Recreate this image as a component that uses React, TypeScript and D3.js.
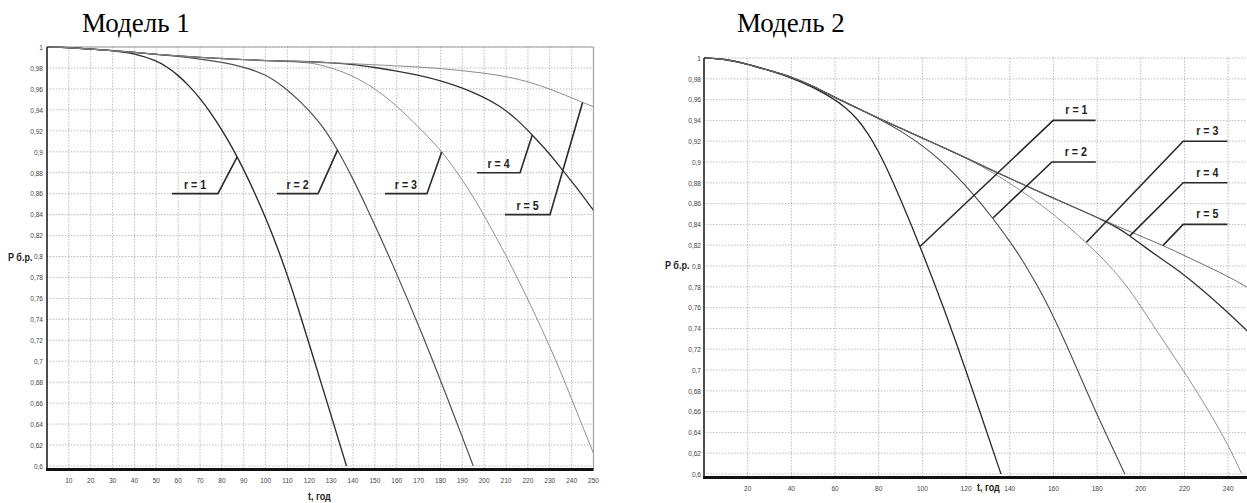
import React from "react";
import * as d3 from "d3";

type Pt = [number, number];

// ---------- Модель 1: P б.р.(t) при r = 1…5 ----------
const model1R1: Pt[] = [[0,1],[10,0.9995],[20,0.998],[30,0.9965],[40,0.994],[50,0.987],[55,0.981],[60,0.973],[65,0.963],[70,0.951],[75,0.937],[80,0.921],[85,0.903],[90,0.883],[95,0.861],[100,0.837],[105,0.811],[110,0.782],[115,0.75],[120,0.716],[125,0.682],[130,0.648],[137,0.6]];
const model1R2: Pt[] = [[0,1],[10,0.9995],[20,0.998],[30,0.9965],[40,0.9948],[50,0.993],[60,0.991],[70,0.9885],[80,0.9855],[90,0.981],[100,0.974],[108,0.9625],[116,0.948],[125,0.928],[133,0.902],[140,0.874],[146,0.848],[152,0.821],[158,0.793],[165,0.759],[172,0.724],[180,0.682],[187,0.644],[195,0.6]];
const model1R3: Pt[] = [[0,1],[10,0.9995],[20,0.998],[30,0.9965],[40,0.9948],[50,0.993],[60,0.9915],[70,0.99],[80,0.989],[90,0.988],[100,0.987],[110,0.9862],[120,0.985],[125,0.983],[135,0.977],[145,0.967],[155,0.953],[165,0.934],[175,0.913],[180.6,0.9],[185,0.888],[190,0.873],[195,0.857],[200,0.839],[205,0.82],[211,0.797],[215,0.78],[220,0.759],[225,0.737],[230,0.714],[235,0.69],[240,0.664],[245,0.638],[250,0.612]];
const model1R4: Pt[] = [[0,1],[10,0.9995],[20,0.998],[30,0.9965],[40,0.9948],[50,0.993],[60,0.9915],[70,0.99],[80,0.989],[90,0.988],[100,0.987],[110,0.9865],[120,0.986],[130,0.985],[140,0.9835],[150,0.9805],[160,0.977],[170,0.973],[180,0.968],[190,0.961],[200,0.952],[207,0.944],[215,0.931],[222,0.916],[230,0.898],[236,0.882],[243,0.864],[250,0.844]];
const model1R5: Pt[] = [[0,1],[10,0.9995],[20,0.998],[30,0.9965],[40,0.9948],[50,0.993],[60,0.9915],[70,0.99],[80,0.989],[90,0.988],[100,0.987],[110,0.9865],[120,0.986],[130,0.985],[140,0.984],[150,0.983],[160,0.982],[170,0.981],[180,0.9795],[190,0.9775],[200,0.975],[210,0.972],[222,0.966],[235,0.956],[245,0.947],[250,0.943]];

// ---------- Модель 2: P б.р.(t) при r = 1…5 ----------
const model2R1: Pt[] = [[0,1],[10,0.999],[20,0.994],[30,0.988],[40,0.981],[50,0.972],[60,0.96],[65,0.952],[70,0.942],[75,0.928],[80,0.91],[85,0.888],[90,0.864],[95,0.839],[100,0.813],[105,0.786],[110,0.758],[115,0.729],[120,0.699],[125,0.668],[130,0.637],[136,0.6]];
const model2R2: Pt[] = [[0,1],[10,0.999],[20,0.994],[30,0.988],[40,0.982],[50,0.973],[60,0.962],[70,0.952],[80,0.942],[90,0.93],[100,0.916],[108,0.902],[115,0.888],[123,0.87],[132,0.847],[141.6,0.819],[146,0.805],[153.8,0.777],[158,0.76],[165,0.729],[170.6,0.702],[181,0.652],[192.7,0.6]];
const model2R3: Pt[] = [[0,1],[10,0.999],[20,0.994],[30,0.988],[40,0.982],[50,0.973],[60,0.962],[70,0.952],[80,0.942],[90,0.9325],[100,0.923],[110,0.9135],[120,0.904],[134,0.888],[149,0.867],[160,0.85],[175,0.823],[186,0.8],[193.5,0.781],[199.5,0.763],[210,0.729],[221,0.695],[231.6,0.659],[240,0.628],[246,0.601]];
const model2R4: Pt[] = [[0,1],[10,0.999],[20,0.994],[30,0.988],[40,0.982],[50,0.973],[60,0.962],[70,0.952],[80,0.942],[90,0.9325],[100,0.923],[110,0.9135],[120,0.904],[134,0.89],[145,0.8795],[157,0.868],[170,0.856],[183,0.844],[190,0.836],[195,0.829],[200,0.821],[210,0.806],[216.5,0.797],[228.4,0.777],[239,0.757],[250,0.735]];
const model2R5: Pt[] = [[0,1],[10,0.999],[20,0.994],[30,0.988],[40,0.982],[50,0.973],[60,0.962],[70,0.952],[80,0.942],[90,0.9325],[100,0.923],[110,0.9135],[120,0.904],[134,0.89],[145,0.8795],[157,0.868],[170,0.856],[183,0.844],[195,0.833],[210,0.82],[222,0.808],[232,0.798],[240,0.79],[250,0.778]];

const seriesNames = ["r = 1", "r = 2", "r = 3", "r = 4", "r = 5"];
const panelTitles = ["Модель 1", "Модель 2"];
const yTickValues = d3.range(30, 51).map((k) => k / 50);
const xTicksModel1 = d3.range(10, 251, 10);
const xTicksModel2 = d3.range(20, 241, 20);
const axisTitleY = "P б.р.";
const axisTitleX = "t, год";

const SANS = "'Liberation Sans',Arial,sans-serif";
const SERIF = "'Liberation Serif','Times New Roman',serif";
const NARROW_SCALE = 0.82;

const fmtTick = (v: number) => d3.format(".2~f")(v).replace(".", ",");

// Arial-Narrow-like text: regular sans squeezed horizontally
function NText(props: {
  x: number; y: number; anchor?: "start" | "middle" | "end"; size: number;
  bold?: boolean; fill: string; dy?: string; children: React.ReactNode;
}) {
  return (
    <text transform={`translate(${props.x},${props.y}) scale(${NARROW_SCALE},1)`}
      textAnchor={props.anchor ?? "start"} dy={props.dy} fontFamily={SANS}
      fontSize={props.size} fontWeight={props.bold ? "bold" : "normal"} fill={props.fill}>
      {props.children}
    </text>
  );
}

interface Leader { tTouch: number; tElbow: number; pElbow: number; tEnd: number; }
interface SeriesStyle { color: string; width: number; }

interface PanelProps {
  data: Pt[][];
  styles: SeriesStyle[];
  leaders: Leader[];
  xTicks: number[];
  left: number; right: number; top: number; bottom: number;
  axisGap: number;
  frame: boolean;
  yLabelX: number; xLabelY: number;
  yTitle: [number, number]; xTitle: [number, number];
  labelDy: number; labelDx: number;
}

function Panel(p: PanelProps) {
  const x = d3.scaleLinear().domain([0, 250]).range([p.left, p.right]);
  const y = d3.scaleLinear().domain([0.6, 1]).range([p.bottom, p.top]);
  const line = d3.line<Pt>().x((d) => x(d[0])).y((d) => y(d[1])).curve(d3.curveBasis);
  const axisY = p.bottom + p.axisGap;
  const gridColor = "#909090";
  const rightEdge = Math.min(p.right, 1247);
  const clipId = `clip-${p.left}`;
  return (
    <g>
      <defs>
        <clipPath id={clipId}>
          <rect x={p.left} y={p.top - 2} width={rightEdge - p.left} height={axisY - p.top + 2} />
        </clipPath>
      </defs>
      {/* grid */}
      {yTickValues.map((v) => (
        <line key={"h" + v} x1={p.left} x2={rightEdge} y1={y(v)} y2={y(v)}
          stroke={gridColor} strokeWidth={0.8} strokeDasharray="1.5,1.5" opacity={0.75} />
      ))}
      {p.xTicks.map((v) => (
        <line key={"v" + v} x1={x(v)} x2={x(v)} y1={p.top} y2={axisY}
          stroke={gridColor} strokeWidth={0.8} strokeDasharray="1.5,1.5" opacity={0.75} />
      ))}
      {p.frame && (
        <g>
          <line x1={p.left} x2={p.right} y1={p.top} y2={p.top} stroke="#a0a0a0" strokeWidth={1.2} />
          <line x1={p.right} x2={p.right} y1={p.top} y2={axisY} stroke="#a0a0a0" strokeWidth={1.2} />
        </g>
      )}
      {/* curves */}
      <g clipPath={`url(#${clipId})`}>
        {p.data.map((s, i) => (
          <path key={"s" + i} d={line(s) ?? ""} fill="none" stroke={p.styles[i].color}
            strokeWidth={p.styles[i].width} strokeLinejoin="round" />
        ))}
      </g>
      {/* axes */}
      <line x1={p.left} x2={p.left} y1={p.top} y2={axisY} stroke="#222" strokeWidth={1.6} />
      <line x1={p.left - 1} x2={rightEdge} y1={axisY} y2={axisY} stroke="#111" strokeWidth={3} />
      {yTickValues.map((v) => (
        <NText key={"yl" + v} x={p.yLabelX} y={y(v)} dy="0.35em" anchor="end" size={8} fill="#444">
          {fmtTick(v)}
        </NText>
      ))}
      {p.xTicks.map((v) => (
        <NText key={"xl" + v} x={x(v)} y={p.xLabelY} anchor="middle" size={8} fill="#444">{v}</NText>
      ))}
      <NText x={p.yTitle[0]} y={p.yTitle[1]} size={11} bold fill="#222">{axisTitleY}</NText>
      <NText x={p.xTitle[0]} y={p.xTitle[1]} size={11} bold fill="#222">{axisTitleX}</NText>
      {/* leader labels */}
      {p.leaders.map((L, i) => {
        const s = p.data[i];
        const interp = d3.scaleLinear().domain(s.map((d) => d[0])).range(s.map((d) => d[1]));
        const tx = x(L.tTouch), ty = y(interp(L.tTouch));
        const ex = x(L.tElbow), ey = y(L.pElbow);
        const endX = x(L.tEnd);
        const cx = (ex + endX) / 2;
        return (
          <g key={"ld" + i}>
            <polyline points={`${tx},${ty} ${ex},${ey} ${endX},${ey}`} fill="none" stroke="#2a2a2a" strokeWidth={1.6} />
            <NText x={cx + p.labelDx} y={ey - p.labelDy} anchor="middle" size={13} bold fill="#222">
              {seriesNames[i]}
            </NText>
          </g>
        );
      })}
    </g>
  );
}

const model1Styles: SeriesStyle[] = [
  { color: "#2e2e2e", width: 1.4 },
  { color: "#505050", width: 1.2 },
  { color: "#8e8e8e", width: 1 },
  { color: "#333", width: 1.3 },
  { color: "#8a8a8a", width: 1 },
];
const model2Styles: SeriesStyle[] = [
  { color: "#2a2a2a", width: 1.3 },
  { color: "#4a4a4a", width: 1.1 },
  { color: "#909090", width: 1 },
  { color: "#333", width: 1.3 },
  { color: "#6a6a6a", width: 1 },
];

const model1Leaders: Leader[] = [
  { tTouch: 87, tElbow: 78.2, pElbow: 0.86, tEnd: 57.2 },
  { tTouch: 133, tElbow: 124, pElbow: 0.86, tEnd: 105.2 },
  { tTouch: 180.6, tElbow: 173.8, pElbow: 0.86, tEnd: 154.6 },
  { tTouch: 222, tElbow: 216.4, pElbow: 0.88, tEnd: 196.7 },
  { tTouch: 245, tElbow: 230.1, pElbow: 0.84, tEnd: 209.5 },
];
const model2Leaders: Leader[] = [
  { tTouch: 98.9, tElbow: 159.9, pElbow: 0.94, tEnd: 179.3 },
  { tTouch: 132.3, tElbow: 159.3, pElbow: 0.9, tEnd: 179.4 },
  { tTouch: 175.1, tElbow: 219.4, pElbow: 0.92, tEnd: 239.7 },
  { tTouch: 195, tElbow: 219.4, pElbow: 0.88, tEnd: 239.7 },
  { tTouch: 210.2, tElbow: 219.4, pElbow: 0.84, tEnd: 239.7 },
];

export default function App() {
  return (
    <svg width={1247} height={503} viewBox="0 0 1247 503"
      style={{ position: "absolute", left: 0, top: 0, background: "#fff" }}>
      <rect width={1247} height={503} fill="#fff" />
      <text x={82} y={32} fontFamily={SERIF} fontSize={27} fill="#000">{panelTitles[0]}</text>
      <text x={737} y={32} fontFamily={SERIF} fontSize={27} fill="#000">{panelTitles[1]}</text>
      <Panel
        data={[model1R1, model1R2, model1R3, model1R4, model1R5]}
        styles={model1Styles}
        leaders={model1Leaders}
        xTicks={xTicksModel1}
        left={47} right={593.5} top={47} bottom={466}
        axisGap={3.5} frame={true}
        yLabelX={43} xLabelY={483}
        yTitle={[8, 261]} xTitle={[308, 500]}
        labelDy={5} labelDx={0}
      />
      <Panel
        data={[model2R1, model2R2, model2R3, model2R4, model2R5]}
        styles={model2Styles}
        leaders={model2Leaders}
        xTicks={xTicksModel2}
        left={704} right={1250} top={58} bottom={474}
        axisGap={3.5} frame={false}
        yLabelX={701} xLabelY={491}
        yTitle={[665, 269]} xTitle={[977, 491]}
        labelDy={6} labelDx={2}
      />
    </svg>
  );
}
